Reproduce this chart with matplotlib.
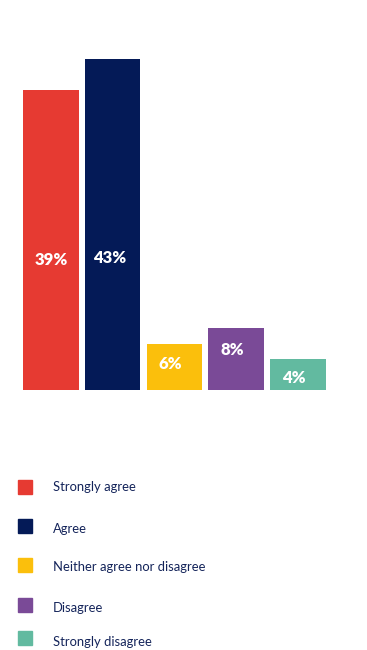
import matplotlib.pyplot as plt
from matplotlib.patches import Rectangle

categories = ["Strongly agree", "Agree", "Neither agree nor disagree",
              "Disagree", "Strongly disagree"]
values = [39, 43, 6, 8, 4]
labels = ["39%", "43%", "6%", "8%", "4%"]
colors = ["#E63A32", "#041A57", "#FBBF0C", "#7A4A97", "#62BAA0"]

# where the value labels sit inside the bars (data units)
label_y = [16.9, 17.2, 3.4, 5.2, 1.6]
label_dx = [0.0, -0.05, -0.06, -0.06, -0.07]
# legend rows, pixel centres from the top
legend_rows = [487, 526, 565, 605, 638]
text_rows = [487, 529, 567, 608, 641.5]

W, H = 367, 650
fig = plt.figure(figsize=(W / 100, H / 100), dpi=100)

ax = fig.add_axes([20.15 / W, (H - 390) / H, 308.5 / W, 331 / H])
x = list(range(len(values)))
ax.bar(x, values, width=0.9, color=colors, edgecolor="none")
ax.set_xlim(-0.5, 4.5)
ax.set_ylim(0, 43)
ax.axis("off")

for i, (lab, yy) in enumerate(zip(labels, label_y)):
    ax.text(i + label_dx[i], yy, lab, ha="center", va="center", color="white",
            fontsize=12, fontweight="heavy", family="Lato")

# legend drawn in pixel space
lg = fig.add_axes([0, 0, 1, 1])
lg.set_xlim(0, W)
lg.set_ylim(H, 0)
lg.axis("off")
for cat, col, ry, ty in zip(categories, colors, legend_rows, text_rows):
    lg.add_patch(Rectangle((17.5, ry - 7), 14, 14, color=col))
    lg.text(53, ty, cat, ha="left", va="center", color="#14245A",
            fontsize=9.4, family="Lato")

fig.savefig("out.png", dpi=100)
